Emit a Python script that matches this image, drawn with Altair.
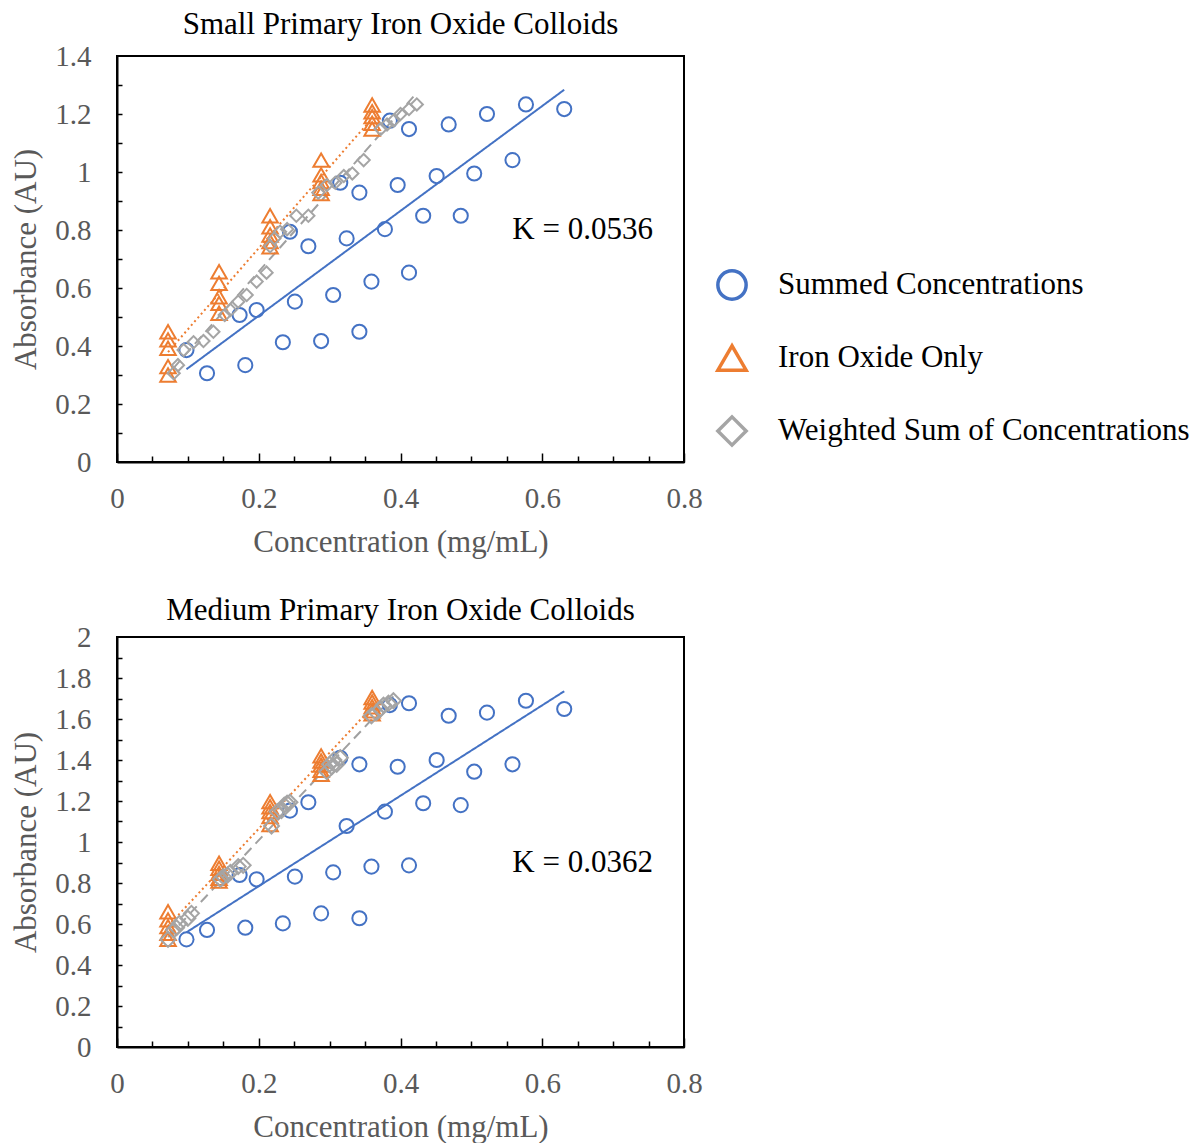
import altair as alt
import pandas as pd

FONT = "Liberation Serif"
AXIS_GRAY = "#595959"

SERIES = ["Summed Concentrations", "Iron Oxide Only", "Weighted Sum of Concentrations"]
COLORS = ["#4472C4", "#ED7D31", "#A5A5A5"]
SHAPES = ["circle", "triangle-up", "diamond"]

# Summed concentrations (mg/mL), shared by both colloid sizes
summed_conc = [0.098, 0.127, 0.173, 0.181, 0.197, 0.234, 0.244, 0.251, 0.270, 0.288,
               0.305, 0.315, 0.324, 0.342, 0.342, 0.359, 0.378, 0.385, 0.396, 0.412,
               0.412, 0.432, 0.451, 0.468, 0.485, 0.504, 0.522, 0.558, 0.577, 0.631]
small_summed_abs = [0.386, 0.306, 0.507, 0.334, 0.524, 0.413, 0.794, 0.553, 0.744, 0.417,
                    0.576, 0.963, 0.771, 0.929, 0.449, 0.622, 0.803, 1.177, 0.955, 0.653,
                    1.148, 0.849, 0.986, 1.164, 0.849, 0.995, 1.200, 1.041, 1.233, 1.217]
medium_summed_abs = [0.525, 0.571, 0.839, 0.582, 0.818, 0.603, 1.153, 0.831, 1.194, 0.652,
                     0.852, 1.411, 1.078, 1.379, 0.628, 0.880, 1.148, 1.668, 1.367, 0.886,
                     1.677, 1.189, 1.400, 1.616, 1.180, 1.343, 1.631, 1.379, 1.689, 1.649]

# Iron oxide only standards
iron_conc = [0.072, 0.072, 0.072, 0.072, 0.072,
             0.144, 0.144, 0.144, 0.144, 0.144,
             0.216, 0.216, 0.216, 0.216, 0.216,
             0.288, 0.288, 0.288, 0.288, 0.288,
             0.360, 0.360, 0.360, 0.360, 0.360]
small_iron_abs = [0.449, 0.421, 0.392, 0.329, 0.300,
                  0.656, 0.616, 0.570, 0.547, 0.513,
                  0.849, 0.811, 0.783, 0.760, 0.742,
                  1.041, 0.990, 0.967, 0.944, 0.926,
                  1.231, 1.208, 1.191, 1.168, 1.148]
medium_iron_abs = [0.660, 0.620, 0.587, 0.555, 0.525,
                   0.896, 0.872, 0.847, 0.823, 0.810,
                   1.197, 1.172, 1.148, 1.124, 1.085,
                   1.420, 1.395, 1.375, 1.350, 1.330,
                   1.705, 1.683, 1.660, 1.640, 1.625]

# Weighted sum of concentrations (same absorbances, re-weighted x)
small_weighted_conc = [0.080, 0.086, 0.094, 0.108, 0.122, 0.136, 0.152, 0.160, 0.171, 0.183,
                       0.197, 0.211, 0.216, 0.222, 0.230, 0.240, 0.253, 0.270, 0.284, 0.296,
                       0.308, 0.320, 0.332, 0.348, 0.372, 0.381, 0.390, 0.400, 0.412, 0.423]
small_weighted_abs = [0.306, 0.334, 0.386, 0.413, 0.417, 0.449, 0.507, 0.524, 0.553, 0.576,
                      0.622, 0.653, 0.744, 0.771, 0.794, 0.803, 0.849, 0.849, 0.929, 0.955,
                      0.963, 0.986, 0.995, 1.041, 1.148, 1.164, 1.177, 1.200, 1.217, 1.233]
medium_weighted_conc = [0.072, 0.080, 0.084, 0.088, 0.100, 0.105, 0.146, 0.150, 0.156, 0.160,
                        0.171, 0.178, 0.218, 0.226, 0.232, 0.236, 0.240, 0.244, 0.296, 0.303,
                        0.300, 0.310, 0.306, 0.315, 0.359, 0.366, 0.372, 0.376, 0.383, 0.390]
medium_weighted_abs = [0.525, 0.571, 0.582, 0.603, 0.628, 0.652, 0.818, 0.831, 0.839, 0.852,
                       0.880, 0.886, 1.078, 1.148, 1.153, 1.180, 1.189, 1.194, 1.343, 1.367,
                       1.379, 1.379, 1.400, 1.411, 1.616, 1.631, 1.649, 1.668, 1.677, 1.689]

x_labels = [0, 0.2, 0.4, 0.6, 0.8]
x_minor = [0.05, 0.1, 0.15, 0.25, 0.3, 0.35, 0.45, 0.5, 0.55, 0.65, 0.7, 0.75]
small_y_labels = [0, 0.2, 0.4, 0.6, 0.8, 1.0, 1.2, 1.4]
small_y_ticks = [0.1, 0.2, 0.3, 0.4, 0.5, 0.6, 0.7, 0.8, 0.9, 1.0, 1.1, 1.2, 1.3]
medium_y_labels = [0, 0.2, 0.4, 0.6, 0.8, 1.0, 1.2, 1.4, 1.6, 1.8, 2.0]
medium_y_ticks = [0.1, 0.2, 0.3, 0.4, 0.5, 0.6, 0.7, 0.8, 0.9, 1.0,
                  1.1, 1.2, 1.3, 1.4, 1.5, 1.6, 1.7, 1.8, 1.9]

PLOT_W = 567


def label_axis(orient, values, title):
    return alt.Axis(orient=orient, values=values, format="~g", ticks=False, grid=False,
                    domain=True, domainColor="black", domainWidth=2,
                    labelFont=FONT, labelFontSize=29, labelColor=AXIS_GRAY,
                    labelPadding=26 if orient == "left" else 22,
                    labelFlush=False, labelOverlap=False, labelBound=False,
                    title=title, titleFont=FONT, titleFontSize=31, titleColor=AXIS_GRAY,
                    titleFontWeight="normal", titlePadding=12 if orient == "left" else 14)


def tick_axis(orient, values, length):
    # ticks drawn inside the frame: axis shifted inward by the tick length
    return alt.Axis(orient=orient, values=values, labels=False, domain=False, grid=False,
                    ticks=True, tickSize=length, tickWidth=1.5, tickColor="black",
                    offset=-length, zindex=1)


def panel(title, title_offset, summed_abs, iron_abs, w_conc, w_abs, y_max, height,
          y_labels, y_ticks, diamond_size, k_label, k_xy, show_legend):
    df = pd.DataFrame({
        "series": [SERIES[0]] * len(summed_conc) + [SERIES[1]] * len(iron_conc)
                  + [SERIES[2]] * len(w_conc),
        "conc": summed_conc + iron_conc + w_conc,
        "abs": summed_abs + iron_abs + w_abs,
    })
    xs = alt.Scale(domain=[0, 0.8], nice=False)
    ys = alt.Scale(domain=[0, y_max], nice=False)

    if show_legend:
        legend = alt.Legend(orient="none", legendX=599, legendY=213, title=None,
                            labelFont=FONT, labelFontSize=31, labelColor="black",
                            labelLimit=0, symbolSize=800, symbolStrokeWidth=3.5,
                            rowPadding=31, labelOffset=30, padding=0)
    else:
        legend = None

    base = alt.Chart(df)
    color = alt.Color("series:N", scale=alt.Scale(domain=SERIES, range=COLORS), legend=legend)
    shape = alt.Shape("series:N", scale=alt.Scale(domain=SERIES, range=SHAPES), legend=legend)

    def points(name, size, with_axes):
        if with_axes:
            xaxis = label_axis("bottom", x_labels, "Concentration (mg/mL)")
            yaxis = label_axis("left", y_labels, "Absorbance (AU)")
        else:
            xaxis = None
            yaxis = None
        return base.transform_filter(alt.datum.series == name).mark_point(
            filled=False, strokeWidth=2, opacity=1, size=size).encode(
            x=alt.X("conc:Q", scale=xs, axis=xaxis),
            y=alt.Y("abs:Q", scale=ys, axis=yaxis),
            color=color, shape=shape,
        )

    p_summed = points(SERIES[0], 200, True)
    p_iron = points(SERIES[1], 240, False)
    p_weighted = points(SERIES[2], diamond_size, False)

    def trend(name, color_value, dash, xaxis, yaxis):
        return base.transform_filter(alt.datum.series == name).transform_regression(
            "conc", "abs").mark_line(color=color_value, strokeWidth=2, strokeDash=dash).encode(
            x=alt.X("conc:Q", scale=xs, axis=xaxis, title=None),
            y=alt.Y("abs:Q", scale=ys, axis=yaxis, title=None),
        )

    t_summed = trend(SERIES[0], COLORS[0], [1, 0],
                     tick_axis("bottom", x_minor, 6), tick_axis("left", y_ticks, 5))
    t_iron = trend(SERIES[1], COLORS[1], [2, 3],
                   tick_axis("bottom", x_labels, 9), None)
    t_weighted = trend(SERIES[2], "#A0A0A0", [10, 6], None, None)

    kdf = pd.DataFrame({"label": [k_label], "conc": [k_xy[0]], "abs": [k_xy[1]]})
    ktext = alt.Chart(kdf).mark_text(font=FONT, fontSize=31, color="black",
                                     align="center", baseline="middle").encode(
        x=alt.X("conc:Q", scale=xs, axis=None),
        y=alt.Y("abs:Q", scale=ys, axis=None),
        text="label:N",
    )

    return alt.layer(t_summed, t_iron, t_weighted, p_summed, p_iron, p_weighted,
                     ktext).resolve_axis(x="independent", y="independent").properties(
        width=PLOT_W, height=height,
        title=alt.Title(title, font=FONT, fontSize=31, fontWeight="normal",
                        color="black", offset=title_offset),
    )


top = panel("Small Primary Iron Oxide Colloids", 1, small_summed_abs, small_iron_abs,
            small_weighted_conc, small_weighted_abs, 1.4, 406,
            small_y_labels, small_y_ticks, 150, "K = 0.0536", (0.657, 0.80), True)
bottom = panel("Medium Primary Iron Oxide Colloids", -4, medium_summed_abs, medium_iron_abs,
               medium_weighted_conc, medium_weighted_abs, 2.0, 410,
               medium_y_labels, medium_y_ticks, 225, "K = 0.0362", (0.657, 0.90), False)

chart = alt.vconcat(top, bottom, spacing=36).resolve_scale(
    x="independent", y="independent", color="independent", shape="independent",
).configure(
    font=FONT, padding={"left": 9, "top": 8, "right": 0, "bottom": 0},
).configure_view(stroke="black", strokeWidth=2)

chart.save("out.html", embed_options={"renderer": "svg", "actions": False})
